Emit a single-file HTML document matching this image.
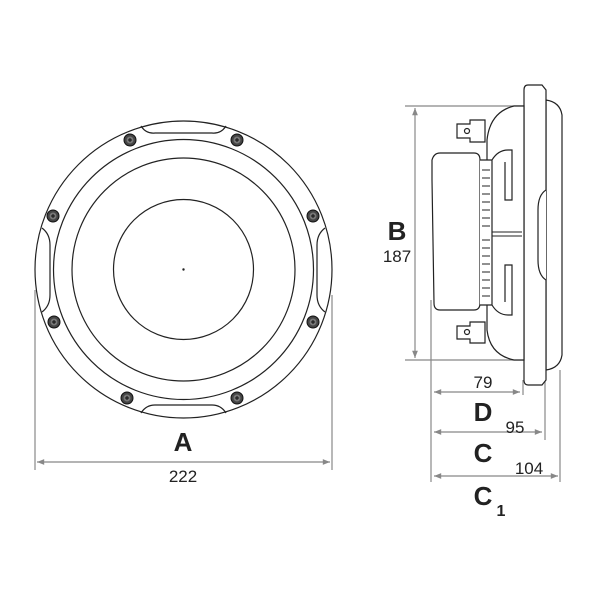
<!DOCTYPE html>
<html><head><style>html,body{margin:0;padding:0;background:#fff}svg{display:block}</style></head>
<body>
<svg width="600" height="600" viewBox="0 0 600 600" xmlns="http://www.w3.org/2000/svg">
<defs>
<marker id="ar" viewBox="0 0 10 10" refX="10" refY="5" markerWidth="8" markerHeight="6" orient="auto-start-reverse"><path d="M0,1 L10,5 L0,9 z" fill="#888"/></marker>
<g id="scr"><circle r="6" fill="#444" stroke="#111" stroke-width="1"/><circle r="3.5" fill="#777"/><path d="M-2,0H2M0,-2V2" stroke="#111" stroke-width="1"/></g>
</defs>
<g fill="none" stroke="#222" stroke-width="1.2">
<circle cx="183.5" cy="269.5" r="148.5"/>
<circle cx="183.5" cy="269.5" r="130"/>
<circle cx="183.5" cy="269.5" r="111.5"/>
<circle cx="183.5" cy="269.5" r="70"/>
<path d="M141,126 Q146,134 155,133 L212,133 Q221,134 226,126"/>
<path d="M141,413 Q146,405 155,405 L212,405 Q221,405 226,413"/>
<path d="M42,228 Q50,234 50,245 L50,295 Q50,306 42,312"/>
<path d="M325,228 Q317,234 317,245 L317,295 Q317,306 325,312"/>
</g>
<circle cx="183.5" cy="269.5" r="1.2" fill="#222"/>
<use href="#scr" x="130" y="140"/><use href="#scr" x="237" y="140"/>
<use href="#scr" x="53" y="216"/><use href="#scr" x="313" y="216"/>
<use href="#scr" x="54" y="322"/><use href="#scr" x="313" y="322"/>
<use href="#scr" x="127" y="398"/><use href="#scr" x="237" y="398"/>
<g stroke="#888" stroke-width="1.2" fill="none">
<path d="M35,290V470M332,295V470"/>
<path d="M37,462H330" marker-start="url(#ar)" marker-end="url(#ar)"/>
<path d="M405,106H525M405,360H525"/>
<path d="M415,108V358" marker-start="url(#ar)" marker-end="url(#ar)"/>
<path d="M431,300V482M523,380V395M545,370V440M560,370V482"/>
<path d="M434,392H520" marker-start="url(#ar)" marker-end="url(#ar)"/>
<path d="M434,432H542" marker-start="url(#ar)" marker-end="url(#ar)"/>
<path d="M434,476H558" marker-start="url(#ar)" marker-end="url(#ar)"/>
</g>
<g fill="#fff" stroke="#222" stroke-width="1.2">
<path d="M546,100 Q560,102 562,115 L562,355 Q560,368 546,370 Z"/>
<path d="M528,85 L542,85 L546,90 L546,380 L542,385 L528,385 Q524,385 524,380 L524,90 Q524,85 528,85Z"/>
<path d="M546,190 Q538,195 538,210 L538,260 Q538,275 546,280"/>
<path d="M514,106 L524,106 L524,360 L514,360 Q490,355 487,330 L487,140 Q490,112 514,106Z"/>
<path d="M440,153 L474,153 Q480,153 480,160 L480,303 Q480,310 474,310 L440,310 Q434,310 434,303 L432,180 L432,160 Q434,153 440,153Z"/>
<path d="M480,160 L492,160 L492,305 L480,305"/>
<path d="M492,160 Q498,150 508,150 L512,150 L512,200 L505,200 L505,162"/>
<path d="M492,305 Q498,315 508,315 L512,315 L512,265 L505,265 L505,302"/>
<path d="M457,124 L470,124 L470,120 L485,120 L485,142 L470,142 L470,138 L457,138Z"/>
<path d="M457,326 L470,326 L470,322 L485,322 L485,343 L470,343 L470,339 L457,339Z"/>
<circle cx="467" cy="131" r="2.5"/><circle cx="467" cy="332" r="2.5"/>
</g>
<g stroke="#222" stroke-width="1">
<path d="M482,170H490M482,178H490M482,186H490M482,194H490M482,202H490M482,210H490M482,218H490M482,226H490M482,240H490M482,248H490M482,256H490M482,264H490M482,272H490M482,280H490M482,288H490M482,296H490"/>
<path d="M492,232H522M492,236H522"/>
</g>
<g font-family="Liberation Sans, sans-serif" fill="#222" text-anchor="middle">
<text x="183" y="451" font-size="26" font-weight="bold">A</text>
<text x="183" y="482" font-size="17">222</text>
<text x="397" y="240" font-size="26" font-weight="bold">B</text>
<text x="397" y="262" font-size="17">187</text>
<text x="483" y="388" font-size="17">79</text>
<text x="483" y="421" font-size="26" font-weight="bold">D</text>
<text x="515" y="433" font-size="17">95</text>
<text x="483" y="462" font-size="26" font-weight="bold">C</text>
<text x="529" y="474" font-size="17">104</text>
<text x="483" y="505" font-size="26" font-weight="bold">C</text>
<text x="501" y="516" font-size="16" font-weight="bold">1</text>
</g>
</svg>
</body></html>
